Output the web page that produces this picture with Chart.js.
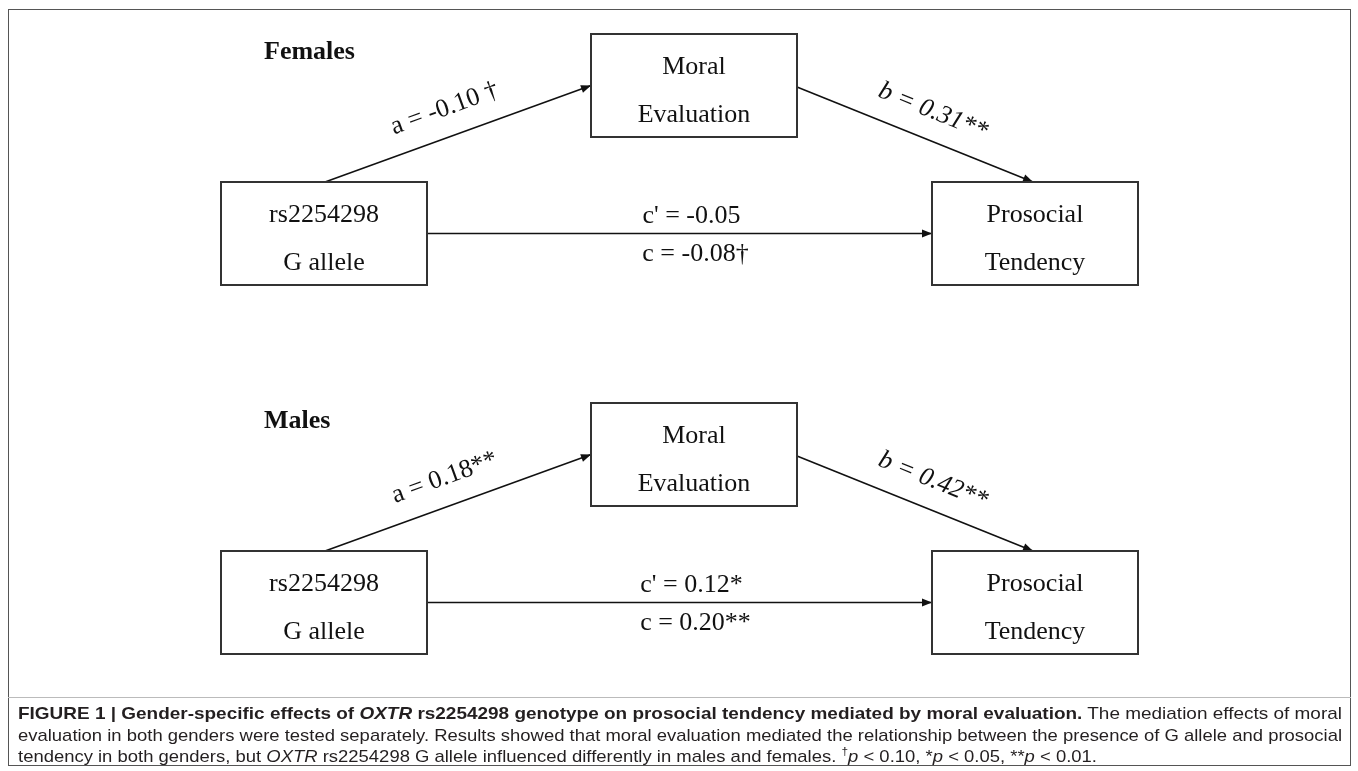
<!DOCTYPE html>
<html>
<head>
<meta charset="utf-8">
<script src="https://cdn.jsdelivr.net/npm/chart.js@4.4.1/dist/chart.umd.min.js"></script>
<style>
  html, body { margin: 0; padding: 0; background: #fff; }
  #wrap { position: relative; width: 1358px; height: 771px; overflow: hidden; }
  #diagram { position: absolute; left: 0; top: 0; }
  #frame { position: absolute; left: 8px; top: 9px; width: 1343px; height: 757px; border: 1px solid #555; box-sizing: border-box; }
  #rule { position: absolute; left: 8px; top: 697px; width: 1343px; height: 0; border-top: 1px solid #bbb; }
  #caption { position: absolute; left: 18px; top: 703px; width: 1324px; font-family: "Liberation Sans", Arial, sans-serif; font-size: 17px; color: #231f20; }
  #caption .ln { white-space: nowrap; display: block; height: 21.5px; line-height: 21.5px; }
  #caption .ln span { display: inline-block; transform-origin: 0 50%; }
</style>
</head>
<body>
<div id="wrap">
  <canvas id="diagram"></canvas>
  <div id="frame"></div>
  <div id="rule"></div>
  <div id="caption">
    <div class="ln"><span><b>FIGURE 1 | Gender-specific effects of <i>OXTR</i> rs2254298 genotype on prosocial tendency mediated by moral evaluation.</b> The mediation effects of moral</span></div>
    <div class="ln"><span>evaluation in both genders were tested separately. Results showed that moral evaluation mediated the relationship between the presence of G allele and prosocial</span></div>
    <div class="ln"><span>tendency in both genders, but <i>OXTR</i> rs2254298 G allele influenced differently in males and females. <sup style="font-size:11px;line-height:0">†</sup><i>p</i> &lt; 0.10, *<i>p</i> &lt; 0.05, **<i>p</i> &lt; 0.01.</span></div>
  </div>
</div>
<script>
// --- data ---
const groups = ['Females', 'Males'];
const nodeLabels = [['rs2254298', 'G allele'], ['Moral', 'Evaluation'], ['Prosocial', 'Tendency']];
const pathA = ['a = -0.10 \u2020', 'a = 0.18**'];
const pathB = ['b = 0.31**', 'b = 0.42**'];
const pathCPrime = ["c' = -0.05", "c' = 0.12*"];
const pathC = ['c = -0.08\u2020', 'c = 0.20**'];

// --- layout (axis units == canvas px) ---
const W = 1358, H = 771;
const panelOffset = [0, 369];
const nodeCenters = [[324, 233.5], [694, 85.5], [1035, 233.5]];
const boxW = 206, boxH = 103;

function edges(off) {
    const [gx, gy] = nodeCenters[0], [mx, my] = nodeCenters[1], [px, py] = nodeCenters[2];
    return {
        a: [{x: gx + 1, y: gy - boxH / 2 + off}, {x: mx - boxW / 2, y: my + off}],
        b: [{x: mx + boxW / 2, y: my + 1.5 + off}, {x: px - 2, y: py - boxH / 2 + off}],
        c: [{x: gx + boxW / 2, y: gy + off}, {x: px - boxW / 2, y: py + off}]
    };
}

const datasets = [];
panelOffset.forEach((off, g) => {
    const e = edges(off);
    ['a', 'b', 'c'].forEach(k => {
        datasets.push({
            label: groups[g] + ' ' + k,
            data: e[k],
            path: k,
            group: g,
            borderColor: '#111',
            borderWidth: 1.6,
            pointRadius: 0,
            fill: false,
            tension: 0
        });
    });
});

const diagramPlugin = {
    id: 'diagram',
    afterDatasetsDraw(chart) {
        const ctx = chart.ctx;
        const xs = chart.scales.x, ys = chart.scales.y;
        ctx.save();

        // arrow heads + path labels
        chart.data.datasets.forEach((ds, i) => {
            const pts = chart.getDatasetMeta(i).data;
            const p0 = pts[0], p1 = pts[pts.length - 1];
            const ang = Math.atan2(p1.y - p0.y, p1.x - p0.x);
            ctx.fillStyle = '#111';
            ctx.beginPath();
            ctx.moveTo(p1.x, p1.y);
            ctx.lineTo(p1.x - 10 * Math.cos(ang) + 4 * Math.sin(ang), p1.y - 10 * Math.sin(ang) - 4 * Math.cos(ang));
            ctx.lineTo(p1.x - 10 * Math.cos(ang) - 4 * Math.sin(ang), p1.y - 10 * Math.sin(ang) + 4 * Math.cos(ang));
            ctx.closePath();
            ctx.fill();

            const g = ds.group;
            ctx.fillStyle = '#111';
            ctx.textAlign = 'center';
            if (ds.path === 'c') {
                const cx = (p0.x + p1.x) / 2 + 12;
                ctx.font = '26px "Liberation Serif", serif';
                ctx.textBaseline = 'alphabetic';
                ctx.fillText(pathCPrime[g], cx, p1.y - 11);
                ctx.fillText(pathC[g], cx + 4, p1.y + 27);
            } else {
                const mx = (p0.x + p1.x) / 2, my = (p0.y + p1.y) / 2;
                const nx = Math.sin(ang), ny = -Math.cos(ang);
                const along = ds.path === 'a' ? -4 : 8;
                const tx = mx + nx * 28 + Math.cos(ang) * along;
                const ty = my + ny * 28 + Math.sin(ang) * along;
                ctx.translate(tx, ty);
                ctx.rotate(ang);
                ctx.textBaseline = 'middle';
                ctx.font = ds.path === 'a' ? '26px "Liberation Serif", serif' : 'italic 26px "Liberation Serif", serif';
                ctx.fillText(ds.path === 'a' ? pathA[g] : pathB[g], 0, 0);
                ctx.setTransform(1, 0, 0, 1, 0, 0);
            }
        });

        // boxes and node text
        panelOffset.forEach((off, g) => {
            nodeCenters.forEach(([cx, cy], n) => {
                const x0 = xs.getPixelForValue(cx - boxW / 2), x1 = xs.getPixelForValue(cx + boxW / 2);
                const y0 = ys.getPixelForValue(cy - boxH / 2 + off), y1 = ys.getPixelForValue(cy + boxH / 2 + off);
                ctx.strokeStyle = '#333';
                ctx.lineWidth = 2;
                ctx.strokeRect(x0, y0, x1 - x0, y1 - y0);
                ctx.fillStyle = '#111';
                ctx.font = '26px "Liberation Serif", serif';
                ctx.textAlign = 'center';
                ctx.textBaseline = 'alphabetic';
                ctx.fillText(nodeLabels[n][0], (x0 + x1) / 2, y0 + 40);
                ctx.fillText(nodeLabels[n][1], (x0 + x1) / 2, y0 + 88);
            });
            ctx.font = 'bold 26px "Liberation Serif", serif';
            ctx.textAlign = 'left';
            ctx.fillText(groups[g], xs.getPixelForValue(264), ys.getPixelForValue(59 + off));
        });
        ctx.restore();
    }
};

const canvas = document.getElementById('diagram');
canvas.width = W;
canvas.height = H;
new Chart(canvas.getContext('2d'), {
    type: 'line',
    data: { datasets },
    options: {
        responsive: false,
        animation: false,
        events: [],
        layout: { padding: 0 },
        plugins: { legend: { display: false }, tooltip: { enabled: false } },
        scales: {
            x: { type: 'linear', min: 0, max: W, display: false },
            y: { type: 'linear', min: 0, max: H, reverse: true, display: false }
        }
    },
    plugins: [diagramPlugin]
});

// condensed caption: justified lines squeezed to the column, last line keeps line 2's squeeze
const spans = document.querySelectorAll('#caption .ln span');
const target = 1324;
let s2 = 1;
spans.forEach((sp, i) => {
    const w = sp.getBoundingClientRect().width;
    let s = target / w;
    if (i === 1) s2 = s;
    if (i === 2) s = s2;
    sp.style.transform = 'scaleX(' + s + ')';
});
</script>
</body>
</html>
